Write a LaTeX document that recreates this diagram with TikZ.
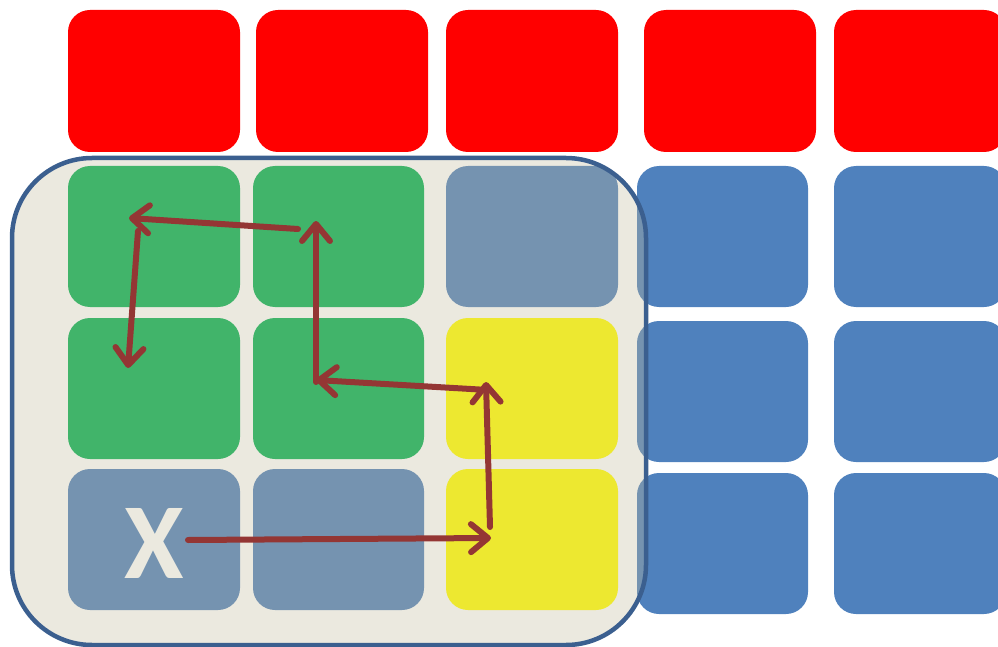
\documentclass[tikz,border=0pt]{standalone}
\usepackage{fontspec}
\newfontfamily\xfont{Carlito}
\usetikzlibrary{arrows.meta}
\definecolor{cred}{HTML}{FF0000}
\definecolor{cgreen}{HTML}{41B46A}
\definecolor{cblue}{HTML}{4F81BD}
\definecolor{cgrayblue}{HTML}{7593B0}
\definecolor{cyellow}{HTML}{EDE830}
\definecolor{cframe}{HTML}{3B5F8F}
\definecolor{cframefill}{HTML}{EBE9DF}
\definecolor{carrow}{HTML}{943634}
\newcommand{\mycell}[6]{\node[cell, fill=#6, minimum width={#4-#2}, minimum height={#5-#3}] (#1) at ({(#2+#4)/2},{(#3+#5)/2}) {};}
\begin{document}
\begin{tikzpicture}[x=1pt,y=-1pt,
  cell/.style={draw=none, rectangle, rounded corners=22pt, inner sep=0pt, outer sep=0pt},
  arr/.style={draw=carrow, line width=6pt, line cap=round, -{Straight Barb[length=17pt,width=28pt,round]}}]
\useasboundingbox (0,0) rectangle (998,647);
% red row
\mycell{r1}{68}{10}{240}{152}{cred}
\mycell{r2}{256}{10}{428}{152}{cred}
\mycell{r3}{446}{10}{618}{152}{cred}
\mycell{r4}{644}{10}{816}{152}{cred}
\mycell{r5}{834}{10}{1006}{152}{cred}
% right blue columns
\mycell{b41}{637}{166}{808}{307}{cblue}
\mycell{b42}{637}{321}{808}{462}{cblue}
\mycell{b43}{637}{473}{808}{614}{cblue}
\mycell{b51}{834}{166}{1006}{307}{cblue}
\mycell{b52}{834}{321}{1006}{462}{cblue}
\mycell{b53}{834}{473}{1006}{614}{cblue}
% frame
\path[fill=cframefill, rounded corners=80pt] (12,158) rectangle (646,645);
\begin{scope}
\clip[rounded corners=80pt] (12,158) rectangle (646,645);
\mycell{g41}{637}{166}{808}{307}{cgrayblue}
\mycell{g42}{637}{321}{808}{462}{cgrayblue}
\mycell{g43}{637}{473}{808}{614}{cgrayblue}
\end{scope}
% inner cells
\mycell{c11}{68}{166}{240}{307}{cgreen}
\mycell{c12}{253}{166}{424}{307}{cgreen}
\mycell{c13}{446}{166}{618}{307}{cgrayblue}
\mycell{c21}{68}{318}{240}{459}{cgreen}
\mycell{c22}{253}{318}{424}{459}{cgreen}
\mycell{c23}{446}{318}{618}{459}{cyellow}
\mycell{c31}{68}{469}{240}{610}{cgrayblue}
\mycell{c32}{253}{469}{424}{610}{cgrayblue}
\mycell{c33}{446}{469}{618}{610}{cyellow}
\draw[cframe, line width=4.5pt, rounded corners=80pt] (12,158) rectangle (646,645);
% X label
\node[text=cframefill, inner sep=0pt, font=\xfont\bfseries\fontsize{108}{108}\selectfont] (xl) at (154,543) {X};
% arrow points
\coordinate (p1) at (188,540);
\coordinate (p2) at (491,538);
\coordinate (p3) at (490,527);
\coordinate (p4) at (486,382);
\coordinate (p5) at (488,390);
\coordinate (p6) at (316,380);
\coordinate (p7) at (316,382);
\coordinate (p8) at (316,221);
\coordinate (p9) at (298,229);
\coordinate (p10) at (129,218);
\coordinate (p11) at (138,231);
\coordinate (p12) at (128,368);
\draw[arr] (p1) -- (p2);
\draw[arr] (p3) -- (p4);
\draw[arr] (p5) -- (p6);
\draw[arr] (p7) -- (p8);
\draw[arr] (p9) -- (p10);
\draw[arr] (p11) -- (p12);
\end{tikzpicture}
\end{document}
